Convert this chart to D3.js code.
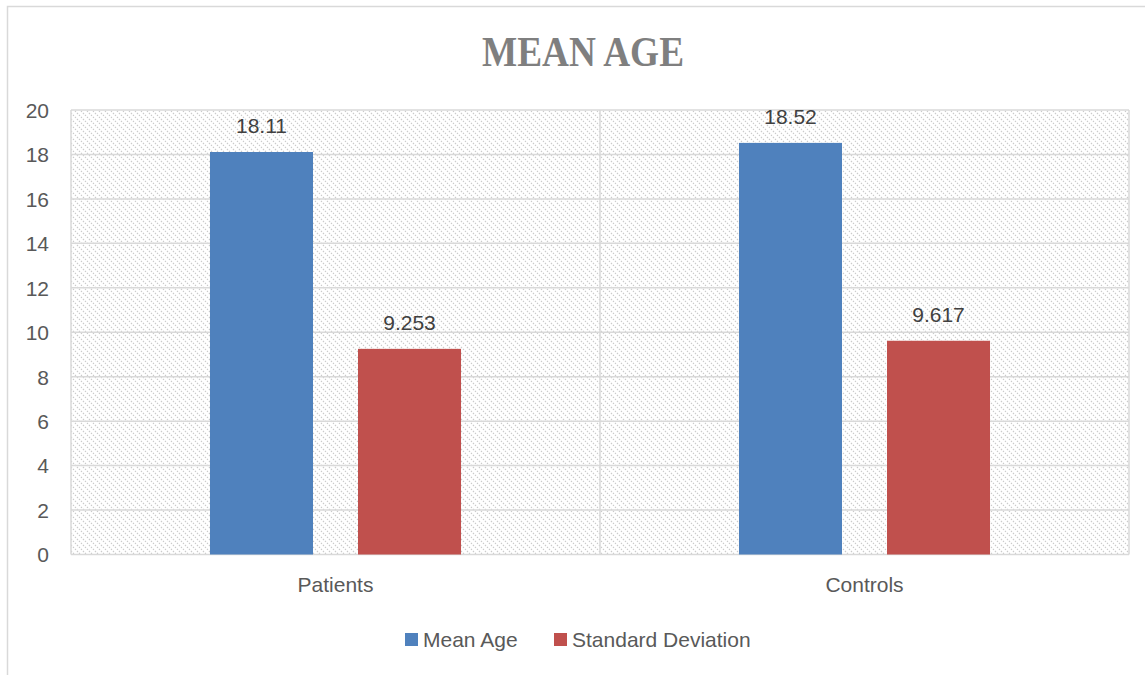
<!DOCTYPE html>
<html>
<head>
<meta charset="utf-8">
<script src="https://cdn.jsdelivr.net/npm/d3@7"></script>
<style>
  html, body { margin: 0; padding: 0; background: #fff; }
  svg { display: block; }
</style>
</head>
<body>
<svg id="chart" width="1145" height="675"></svg>
<script>
// Chart data
const categories = ["Patients", "Controls"];
const seriesNames = ["Mean Age", "Standard Deviation"];
const meanAge = [18.11, 18.52];
const stdDev = [9.253, 9.617];
const valueLabels = [["18.11", "18.52"], ["9.253", "9.617"]];
const yTicks = [0, 2, 4, 6, 8, 10, 12, 14, 16, 18, 20];
const colors = ["#4f81bd", "#c0504d"];
const title = "MEAN AGE";

const series = [meanAge, stdDev];

const svg = d3.select("#chart");
const W = 1145, H = 675;
const plot = { left: 71, right: 1129, top: 110, bottom: 554.5 };
const textColor = "#595959";
const gridColor = "#d9d9d9";
const bodyFont = "'Liberation Sans', Arial, sans-serif";
const bodySize = 21;

// Hatched plot-area fill: dotted downward diagonals
const defs = svg.append("defs");
const pat = defs.append("pattern")
  .attr("id", "hatch")
  .attr("patternUnits", "userSpaceOnUse")
  .attr("width", 6).attr("height", 6);
pat.append("rect").attr("width", 6).attr("height", 6).attr("fill", "#fff");
pat.append("path")
  .attr("d", "M-1,-1 L7,7 M-1,5 L1,7 M5,-1 L7,1")
  .attr("stroke", "#c8c8c8")
  .attr("stroke-width", 1.1)
  .attr("stroke-dasharray", "1.4,1.4");

// Outer chart border (extends past the viewport on right and bottom)
svg.append("rect")
  .attr("x", 7.5).attr("y", 6.5)
  .attr("width", W + 10).attr("height", H + 10)
  .attr("fill", "#fff")
  .attr("stroke", gridColor)
  .attr("stroke-width", 1.5);

// Scales
const y = d3.scaleLinear().domain([0, 20]).range([plot.bottom, plot.top]);
const x0 = d3.scaleBand().domain(categories).range([plot.left, plot.right]).padding(0);
const x1 = d3.scaleBand().domain(seriesNames).range([0, x0.bandwidth()])
  .paddingInner(0.304).paddingOuter(0.939);

// Plot area background
svg.append("rect")
  .attr("x", plot.left).attr("y", plot.top)
  .attr("width", plot.right - plot.left).attr("height", plot.bottom - plot.top)
  .attr("fill", "url(#hatch)");

// Horizontal gridlines
svg.append("g").selectAll("line")
  .data(yTicks)
  .join("line")
  .attr("x1", plot.left).attr("x2", plot.right)
  .attr("y1", d => y(d)).attr("y2", d => y(d))
  .attr("stroke", gridColor)
  .attr("stroke-width", 1.5);

// Vertical category separators and plot border
const vlines = [plot.left, x0("Controls"), plot.right];
svg.append("g").selectAll("line")
  .data(vlines)
  .join("line")
  .attr("x1", d => d).attr("x2", d => d)
  .attr("y1", plot.top).attr("y2", plot.bottom)
  .attr("stroke", gridColor)
  .attr("stroke-width", 1.5);

// Y axis labels
const yAxis = d3.axisLeft(y).tickValues(yTicks).tickSize(0).tickPadding(0);
const yg = svg.append("g")
  .attr("transform", `translate(${plot.left - 22},0)`)
  .call(yAxis);
yg.select(".domain").remove();
yg.selectAll("text")
  .attr("fill", textColor)
  .attr("font-family", bodyFont)
  .attr("font-size", bodySize)
  .attr("text-anchor", "end")
  .attr("dy", "0.35em");

// X axis labels
const xAxis = d3.axisBottom(x0).tickSize(0).tickPadding(0);
const xg = svg.append("g")
  .attr("transform", `translate(0,${plot.bottom + 23})`)
  .call(xAxis);
xg.select(".domain").remove();
xg.selectAll("text")
  .attr("fill", textColor)
  .attr("font-family", bodyFont)
  .attr("font-size", bodySize)
  .attr("dy", "0.7em");

// Bars
const barData = [];
categories.forEach((c, ci) => {
  seriesNames.forEach((s, si) => {
    barData.push({ cat: c, ser: s, si, value: series[si][ci], label: valueLabels[si][ci] });
  });
});

svg.append("g").selectAll("rect")
  .data(barData)
  .join("rect")
  .attr("x", d => x0(d.cat) + x1(d.ser))
  .attr("y", d => y(d.value))
  .attr("width", x1.bandwidth())
  .attr("height", d => y(0) - y(d.value))
  .attr("fill", d => colors[d.si]);

// Value labels
svg.append("g").selectAll("text")
  .data(barData)
  .join("text")
  .attr("x", d => x0(d.cat) + x1(d.ser) + x1.bandwidth() / 2)
  .attr("y", d => y(d.value) - 19)
  .attr("text-anchor", "middle")
  .attr("fill", "#404040")
  .attr("font-family", bodyFont)
  .attr("font-size", bodySize)
  .text(d => d.label);

// Title
svg.append("text")
  .attr("x", 583)
  .attr("y", 66)
  .attr("text-anchor", "middle")
  .attr("fill", "#7f7f7f")
  .attr("font-family", "'Liberation Serif', 'Times New Roman', serif")
  .attr("font-weight", "bold")
  .attr("font-size", 42)
  .attr("textLength", 202)
  .attr("lengthAdjust", "spacingAndGlyphs")
  .text(title);

// Legend
const legendItems = [
  { name: seriesNames[0], color: colors[0], x: 405 },
  { name: seriesNames[1], color: colors[1], x: 554 }
];
const lg = svg.append("g").selectAll("g")
  .data(legendItems)
  .join("g")
  .attr("transform", d => `translate(${d.x},633)`);
lg.append("rect")
  .attr("width", 13).attr("height", 13)
  .attr("y", 0)
  .attr("fill", d => d.color);
lg.append("text")
  .attr("x", 18)
  .attr("y", 14)
  .attr("fill", textColor)
  .attr("font-family", bodyFont)
  .attr("font-size", bodySize)
  .text(d => d.name);
</script>
</body>
</html>
